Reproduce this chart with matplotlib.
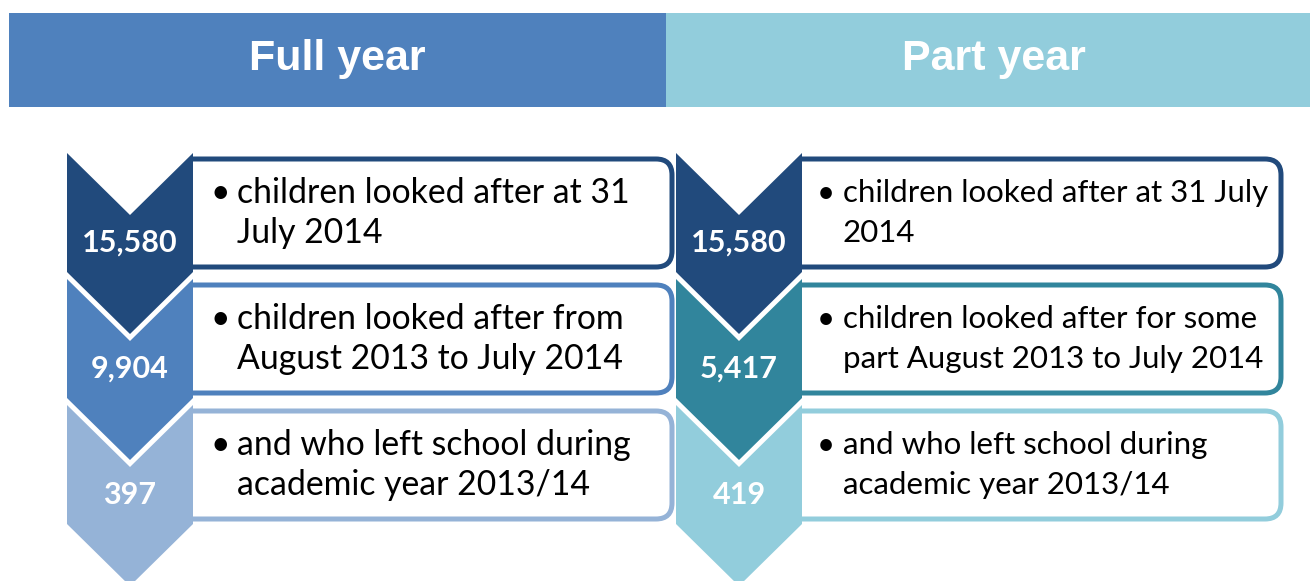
import matplotlib
matplotlib.use('Agg')

import matplotlib.pyplot as plt
from matplotlib.patches import Polygon, Rectangle, FancyBboxPatch

# Data
columns = ["Full year", "Part year"]
header_colors = ["#4F81BD", "#92CDDC"]
counts = [["15,580", "9,904", "397"],
          ["15,580", "5,417", "419"]]
descriptions = [
    [["children looked after at 31", "July 2014"],
     ["children looked after from", "August 2013 to July 2014"],
     ["and who left school during", "academic year 2013/14"]],
    [["children looked after at 31 July", "2014"],
     ["children looked after for some", "part August 2013 to July 2014"],
     ["and who left school during", "academic year 2013/14"]],
]
step_colors = [["#214A7C", "#4F81BD", "#95B3D7"],
               ["#214A7C", "#31859C", "#92CDDC"]]

# Layout (pixels)
W, H = 1310, 581
fig = plt.figure(figsize=(W / 100, H / 100), dpi=100)
ax = fig.add_axes([0, 0, 1, 1])
ax.set_xlim(0, W)
ax.set_ylim(H, 0)
ax.axis("off")

head_x = [9, 666]
head_w = [657, 644]
head_dx = [0, 6]
chev_x = [67, 676]
chev_w = 126
chev_top = 153
pitch = 126
side = 119
depth = 62
box_right = [675, 1284]
text_dx = [44, 41]
bullet_dx = [27, 24]
text_size = [24.3, 22.5]

for c in range(2):
    # header bar
    ax.add_patch(Rectangle((head_x[c], 13), head_w[c], 94,
                           facecolor=header_colors[c], edgecolor="none"))
    ax.text(head_x[c] + head_w[c] / 2 + head_dx[c], 59, columns[c], color="white",
            fontsize=31, fontweight="bold", family="Liberation Sans",
            ha="center", va="center")

    x0 = chev_x[c]
    xm = x0 + chev_w / 2
    x1 = x0 + chev_w
    for i in range(3):
        y0 = chev_top + i * pitch
        col = step_colors[c][i]

        # text box, rounded on the right, clipped on the left
        box = FancyBboxPatch((x1 - 40, y0 + 6), box_right[c] - x1 + 40 - 3, side - 11,
                             boxstyle="round,pad=0,rounding_size=16",
                             facecolor="white", edgecolor=col, linewidth=3.6)
        ax.add_patch(box)
        clip = Rectangle((x1, 0), W, H, transform=ax.transData)
        box.set_clip_path(clip)

        # chevron
        pts = [(x0, y0), (xm, y0 + depth), (x1, y0), (x1, y0 + side),
               (xm, y0 + side + depth), (x0, y0 + side)]
        ax.add_patch(Polygon(pts, closed=True, facecolor=col, edgecolor="none"))

        ax.text(xm, y0 + 90, counts[c][i], color="white", fontsize=22,
                fontweight="bold", family="Lato", ha="center", va="center")

        lines = descriptions[c][i]
        ty = y0 + 40
        ax.text(x1 + bullet_dx[c], ty, "\u2022", fontsize=text_size[c], family="Lato",
                ha="center", va="center")
        for k, line in enumerate(lines):
            ax.text(x1 + text_dx[c], ty + k * 40, line, fontsize=text_size[c],
                    family="Lato", ha="left", va="center")

fig.savefig("out.png", dpi=100)
